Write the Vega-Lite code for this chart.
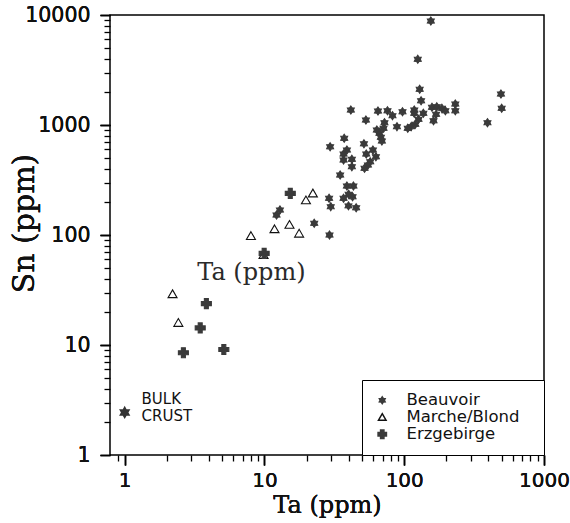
{
  "$schema": "https://vega.github.io/schema/vega-lite/v6.json",
  "width": 434,
  "height": 440,
  "autosize": {"type": "none"},
  "padding": {"left": 110, "top": 15, "right": 26, "bottom": 68},
  "background": "white",
  "config": {
    "view": {"stroke": "black", "strokeWidth": 1.5},
    "axis": {
      "grid": false,
      "labelColor": "#111",
      "titleColor": "#111",
      "labelFont": "DejaVu Sans",
      "titleFont": "DejaVu Serif",
      "titleFontWeight": "normal",
      "labelOverlap": false,
      "labelFlush": false,
      "labelBound": false
    }
  },
  "datasets": {
    "samples": [
      {"group": "Beauvoir", "ta": 155, "sn": 8820},
      {"group": "Beauvoir", "ta": 125, "sn": 3955},
      {"group": "Beauvoir", "ta": 129, "sn": 2112},
      {"group": "Beauvoir", "ta": 132, "sn": 1663},
      {"group": "Beauvoir", "ta": 232, "sn": 1552},
      {"group": "Beauvoir", "ta": 232, "sn": 1349},
      {"group": "Beauvoir", "ta": 492, "sn": 1914},
      {"group": "Beauvoir", "ta": 498, "sn": 1418},
      {"group": "Beauvoir", "ta": 394, "sn": 1050},
      {"group": "Beauvoir", "ta": 41.5, "sn": 1369},
      {"group": "Beauvoir", "ta": 53.2, "sn": 1110},
      {"group": "Beauvoir", "ta": 64.9, "sn": 1341},
      {"group": "Beauvoir", "ta": 75.9, "sn": 1349},
      {"group": "Beauvoir", "ta": 82.4, "sn": 1216},
      {"group": "Beauvoir", "ta": 97.2, "sn": 1321},
      {"group": "Beauvoir", "ta": 118, "sn": 1369},
      {"group": "Beauvoir", "ta": 118, "sn": 1277},
      {"group": "Beauvoir", "ta": 137, "sn": 1277},
      {"group": "Beauvoir", "ta": 158, "sn": 1449},
      {"group": "Beauvoir", "ta": 171, "sn": 1466},
      {"group": "Beauvoir", "ta": 186, "sn": 1419},
      {"group": "Beauvoir", "ta": 197, "sn": 1349},
      {"group": "Beauvoir", "ta": 169, "sn": 1250},
      {"group": "Beauvoir", "ta": 162, "sn": 1094},
      {"group": "Beauvoir", "ta": 126.5, "sn": 1127},
      {"group": "Beauvoir", "ta": 120, "sn": 1015},
      {"group": "Beauvoir", "ta": 112, "sn": 966},
      {"group": "Beauvoir", "ta": 106, "sn": 933},
      {"group": "Beauvoir", "ta": 88.7, "sn": 966},
      {"group": "Beauvoir", "ta": 72.2, "sn": 1050},
      {"group": "Beauvoir", "ta": 71.1, "sn": 933},
      {"group": "Beauvoir", "ta": 63.7, "sn": 901},
      {"group": "Beauvoir", "ta": 66.5, "sn": 840},
      {"group": "Beauvoir", "ta": 68.1, "sn": 773},
      {"group": "Beauvoir", "ta": 69.2, "sn": 716},
      {"group": "Beauvoir", "ta": 51.5, "sn": 675},
      {"group": "Beauvoir", "ta": 37.2, "sn": 757},
      {"group": "Beauvoir", "ta": 29.5, "sn": 635},
      {"group": "Beauvoir", "ta": 38.9, "sn": 593},
      {"group": "Beauvoir", "ta": 36.8, "sn": 545},
      {"group": "Beauvoir", "ta": 59.7, "sn": 593},
      {"group": "Beauvoir", "ta": 53.5, "sn": 545},
      {"group": "Beauvoir", "ta": 62.7, "sn": 515},
      {"group": "Beauvoir", "ta": 57.1, "sn": 464},
      {"group": "Beauvoir", "ta": 55, "sn": 433},
      {"group": "Beauvoir", "ta": 52, "sn": 404},
      {"group": "Beauvoir", "ta": 42.2, "sn": 488},
      {"group": "Beauvoir", "ta": 42.2, "sn": 418},
      {"group": "Beauvoir", "ta": 36.8, "sn": 481},
      {"group": "Beauvoir", "ta": 34.8, "sn": 351},
      {"group": "Beauvoir", "ta": 38.9, "sn": 279},
      {"group": "Beauvoir", "ta": 43.3, "sn": 279},
      {"group": "Beauvoir", "ta": 40, "sn": 235},
      {"group": "Beauvoir", "ta": 42.7, "sn": 223},
      {"group": "Beauvoir", "ta": 36.8, "sn": 216},
      {"group": "Beauvoir", "ta": 39.9, "sn": 184},
      {"group": "Beauvoir", "ta": 45.3, "sn": 177},
      {"group": "Beauvoir", "ta": 29, "sn": 216},
      {"group": "Beauvoir", "ta": 29.8, "sn": 181},
      {"group": "Beauvoir", "ta": 22.7, "sn": 128},
      {"group": "Beauvoir", "ta": 29.2, "sn": 100},
      {"group": "Beauvoir", "ta": 12.2, "sn": 152},
      {"group": "Beauvoir", "ta": 12.9, "sn": 169},
      {"group": "Marche/Blond", "ta": 8.0, "sn": 98},
      {"group": "Marche/Blond", "ta": 9.85, "sn": 66},
      {"group": "Marche/Blond", "ta": 11.8, "sn": 113},
      {"group": "Marche/Blond", "ta": 15.1, "sn": 124},
      {"group": "Marche/Blond", "ta": 17.7, "sn": 103},
      {"group": "Marche/Blond", "ta": 19.8, "sn": 207},
      {"group": "Marche/Blond", "ta": 22.2, "sn": 239},
      {"group": "Marche/Blond", "ta": 2.2, "sn": 29},
      {"group": "Marche/Blond", "ta": 2.42, "sn": 15.9},
      {"group": "Erzgebirge", "ta": 15.3, "sn": 239},
      {"group": "Erzgebirge", "ta": 3.84, "sn": 23.8},
      {"group": "Erzgebirge", "ta": 3.47, "sn": 14.3},
      {"group": "Erzgebirge", "ta": 2.63, "sn": 8.5},
      {"group": "Erzgebirge", "ta": 5.12, "sn": 9.1},
      {"group": "Erzgebirge", "ta": 9.95, "sn": 68}
    ],
    "crust": [{"ta": 1, "sn": 2.44}],
    "notes": [
      {"ta": 1.32, "sn": 3.2, "label": "BULK\nCRUST"}
    ],
    "stray": [
      {"ta": 8.06, "sn": 45, "label": "Ta (ppm)"}
    ]
  },
  "resolve": {"axis": {"x": "independent", "y": "independent"}},
  "encoding": {
    "x": {
      "field": "ta",
      "type": "quantitative",
      "scale": {"type": "log", "domain": [0.785, 1000]},
      "axis": {
        "orient": "bottom",
        "title": "Ta (ppm)",
        "values": [1, 10, 100, 1000],
        "labelExpr": "'' + datum.value",
        "domain": false,
        "ticks": true,
        "tickColor": "black",
        "tickWidth": 1.4,
        "tickSize": 10,
        "labelFontSize": 20,
        "labelPadding": 5,
        "titleFontSize": 24,
        "titleAlign": "center",
        "titleBaseline": "alphabetic",
        "titleX": 217,
        "titleY": 57
      }
    },
    "y": {
      "field": "sn",
      "type": "quantitative",
      "scale": {"type": "log", "domain": [1, 10000]},
      "axis": {
        "orient": "left",
        "title": "Sn (ppm)",
        "values": [1, 10, 100, 1000, 10000],
        "labelExpr": "'' + datum.value",
        "domain": false,
        "ticks": true,
        "tickColor": "black",
        "tickWidth": 1.4,
        "tickSize": 10,
        "labelFontSize": 20.5,
        "labelPadding": 10,
        "titleFontSize": 30,
        "titleAngle": 270,
        "titleAlign": "center",
        "titleBaseline": "alphabetic",
        "titleX": -77,
        "titleY": 208
      }
    }
  },
  "layer": [
    {
      "data": {"name": "samples"},
      "mark": {"type": "point", "filled": true, "size": 100, "strokeWidth": 1.1, "opacity": 1},
      "encoding": {
        "shape": {
          "field": "group",
          "type": "nominal",
          "scale": {
            "domain": ["Beauvoir", "Marche/Blond", "Erzgebirge"],
            "range": [
              "M0,-0.8L0.25,-0.43L0.693,-0.4L0.5,0L0.693,0.4L0.25,0.43L0,0.8L-0.25,0.43L-0.693,0.4L-0.5,0L-0.693,-0.4L-0.25,-0.43Z",
              "M0,-0.85L0.9,0.7L-0.9,0.7Z",
              "M-0.4,-1H0.4V-0.4H1V0.4H0.4V1H-0.4V0.4H-1V-0.4H-0.4Z"
            ]
          },
          "legend": {
            "title": null,
            "orient": "bottom-right",
            "offset": 0,
            "strokeColor": "black",
            "fillColor": "white",
            "padding": 12,
            "labelFont": "DejaVu Sans",
            "labelFontSize": 16.5,
            "labelColor": "#111",
            "symbolSize": 70,
            "labelOffset": 16,
            "rowPadding": 0,
            "labelExpr": "datum.label + '\u2800'"
          }
        },
        "fill": {
          "field": "group",
          "type": "nominal",
          "scale": {"domain": ["Beauvoir", "Marche/Blond", "Erzgebirge"], "range": ["#3a3a3a", "#ffffff", "#3a3a3a"]},
          "legend": {
            "title": null,
            "orient": "bottom-right",
            "offset": 0,
            "strokeColor": "black",
            "fillColor": "white",
            "padding": 12,
            "labelFont": "DejaVu Sans",
            "labelFontSize": 16.5,
            "labelColor": "#111",
            "symbolSize": 70,
            "labelOffset": 16,
            "rowPadding": 0,
            "labelExpr": "datum.label + '\u2800'"
          }
        },
        "stroke": {
          "field": "group",
          "type": "nominal",
          "scale": {"domain": ["Beauvoir", "Marche/Blond", "Erzgebirge"], "range": ["#3a3a3a", "#111111", "#3a3a3a"]},
          "legend": {
            "title": null,
            "orient": "bottom-right",
            "offset": 0,
            "strokeColor": "black",
            "fillColor": "white",
            "padding": 12,
            "labelFont": "DejaVu Sans",
            "labelFontSize": 16.5,
            "labelColor": "#111",
            "symbolSize": 70,
            "labelOffset": 16,
            "rowPadding": 0,
            "labelExpr": "datum.label + '\u2800'"
          }
        }
      }
    },
    {
      "data": {"name": "crust"},
      "mark": {
        "type": "point",
        "filled": true,
        "shape": "M0,-1L0.289,-0.5L0.866,-0.5L0.577,0L0.866,0.5L0.289,0.5L0,1L-0.289,0.5L-0.866,0.5L-0.577,0L-0.866,-0.5L-0.289,-0.5Z",
        "size": 170,
        "color": "#333333",
        "opacity": 1
      },
      "encoding": {
        "x": {
          "field": "ta",
          "type": "quantitative",
          "axis": {
            "orient": "bottom",
            "title": null,
            "labels": false,
            "domain": false,
            "ticks": true,
            "tickColor": "black",
            "tickWidth": 1.3,
            "tickSize": 6,
            "values": [0.9, 2, 3, 4, 5, 6, 7, 8, 9, 20, 30, 40, 50, 60, 70, 80, 90, 200, 300, 400, 500, 600, 700, 800, 900]
          }
        },
        "y": {
          "field": "sn",
          "type": "quantitative",
          "axis": {
            "orient": "left",
            "title": null,
            "labels": false,
            "domain": false,
            "ticks": true,
            "tickColor": "black",
            "tickWidth": 1.3,
            "tickSize": 6,
            "values": [2, 3, 4, 5, 6, 7, 8, 9, 20, 30, 40, 50, 60, 70, 80, 90, 200, 300, 400, 500, 600, 700, 800, 900, 2000, 3000, 4000, 5000, 6000, 7000, 8000, 9000]
          }
        }
      }
    },
    {
      "data": {"name": "notes"},
      "mark": {
        "type": "text",
        "align": "left",
        "baseline": "middle",
        "font": "DejaVu Sans",
        "fontSize": 15,
        "lineBreak": "\n",
        "lineHeight": 16.5,
        "color": "#111"
      },
      "encoding": {"text": {"field": "label"}}
    },
    {
      "data": {"name": "stray"},
      "mark": {
        "type": "text",
        "align": "center",
        "baseline": "middle",
        "font": "DejaVu Serif",
        "fontSize": 24,
        "color": "#2a2a2a"
      },
      "encoding": {"text": {"field": "label"}}
    }
  ]
}
